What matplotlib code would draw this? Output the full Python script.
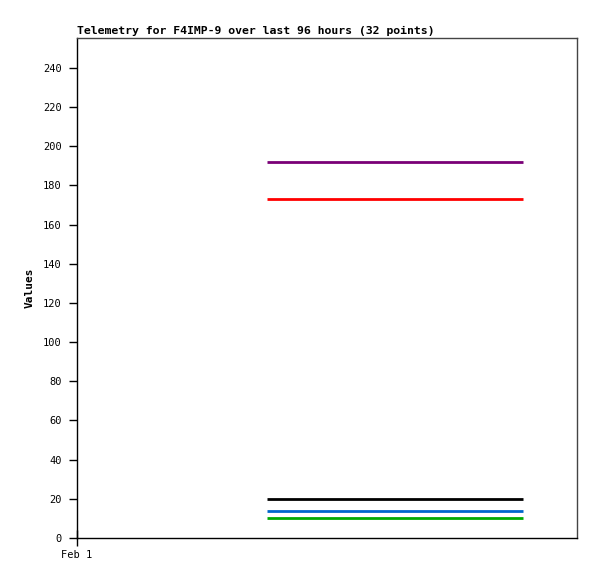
import matplotlib
matplotlib.use('Agg')
import matplotlib.pyplot as plt

# hours since Feb 1 00:00 for the 32 telemetry samples
hours = [36.5, 38.1, 39.7, 41.3, 42.8, 44.4, 46.0, 47.6, 49.2, 50.8, 52.3,
         53.9, 55.5, 57.1, 58.7, 60.3, 61.8, 63.4, 65.0, 66.6, 68.2, 69.8,
         71.3, 72.9, 74.5, 76.1, 77.7, 79.3, 80.8, 82.4, 84.0, 85.6]
series_levels = [192, 173, 20, 14, 10]
series_colors = ['#7a0077', '#ff0000', '#000000', '#0066cc', '#00aa00']
y_ticks = list(range(0, 260, 20))
x_tick_labels = ['Feb 1']

plt.rcParams['font.family'] = ['DejaVu Sans Mono']

fig = plt.figure(figsize=(5.97, 5.79), dpi=100)
ax = fig.add_axes([77/597, 41/579, 500/597, 500/579])

for level, color in zip(series_levels, series_colors):
    ax.plot(hours, [level] * len(hours), color=color, lw=2, solid_capstyle='butt')

ax.set_xlim(0, 96)
ax.set_ylim(0, 255.3)
ax.set_yticks(y_ticks)
ax.set_yticklabels([str(v) for v in y_ticks], fontsize=7.5)
ax.set_xticks([0])
ax.set_xticklabels(x_tick_labels, fontsize=7.5)
ax.tick_params(axis='both', length=6, width=1, color='black', pad=5)
ax.tick_params(axis='y', direction='out')
ax.tick_params(axis='x', direction='inout', length=12, pad=3)

for side in ['top', 'right']:
    ax.spines[side].set_color('#444444')
for side in ['left', 'bottom']:
    ax.spines[side].set_color('black')
for sp in ax.spines.values():
    sp.set_linewidth(1)

ax.set_ylabel('Values', fontsize=8, fontweight='bold', labelpad=6)
ax.set_title('Telemetry for F4IMP-9 over last 96 hours (32 points)',
             loc='left', fontsize=8.25, fontweight='bold', pad=3)

fig.savefig('out.png', dpi=100)
